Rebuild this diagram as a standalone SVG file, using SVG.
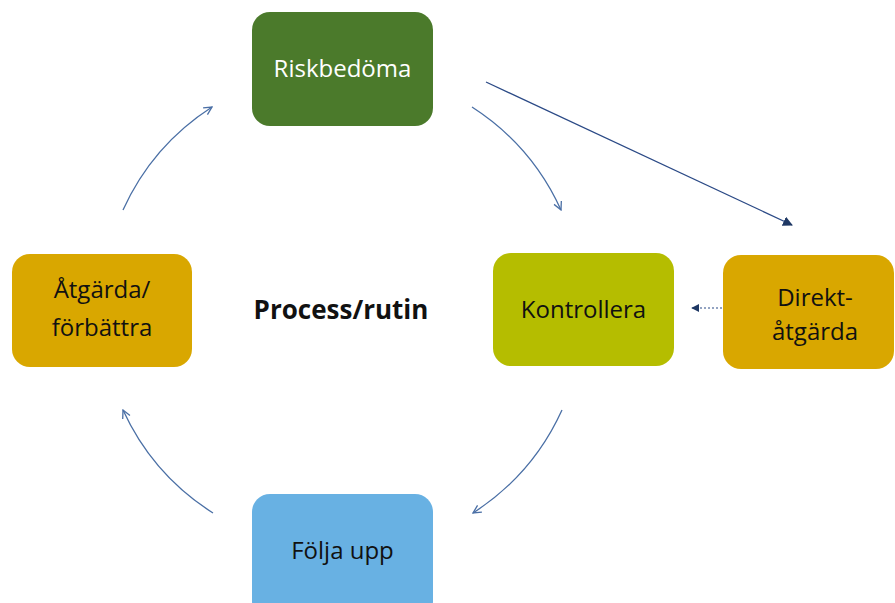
<svg xmlns="http://www.w3.org/2000/svg" width="895" height="603" viewBox="0 0 895 603">
<defs>
<style>
.box{stroke:none}
.t{font-family:"Open Sans","Noto Sans","Liberation Sans",sans-serif;font-size:24px;text-anchor:middle;fill:#111}
.w{fill:#fff}
.b{font-weight:bold;font-size:26px}
.arc{fill:none;stroke:#4a6fa5;stroke-width:1.3}
.nav{fill:none;stroke:#2b4a86;stroke-width:1.2}
</style>
<marker id="open" viewBox="0 0 10 10" refX="9" refY="5" markerWidth="10" markerHeight="10" markerUnits="userSpaceOnUse" orient="auto">
<path d="M1,1 L9,5 L1,9" fill="none" stroke="#4a6fa5" stroke-width="1.3"/>
</marker>
<marker id="tri" viewBox="0 0 10 10" refX="9" refY="5" markerWidth="10" markerHeight="10" markerUnits="userSpaceOnUse" orient="auto">
<path d="M0,0 L10,5 L0,10 Z" fill="#1f3864"/>
</marker>
<marker id="tri2" viewBox="0 0 10 10" refX="9" refY="5" markerWidth="8" markerHeight="8" markerUnits="userSpaceOnUse" orient="auto">
<path d="M0,0 L10,5 L0,10 Z" fill="#1f3864"/>
</marker>
</defs>
<rect width="895" height="603" fill="#fff"/>
<g id="connectors">
<path class="arc" d="M472,107 A241,241 0 0 1 561,210" marker-end="url(#open)"/>
<path class="arc" d="M562,410 A241,241 0 0 1 473,513" marker-end="url(#open)"/>
<path class="arc" d="M213,513 A241,241 0 0 1 123,410" marker-end="url(#open)"/>
<path class="arc" d="M123,210 A241,241 0 0 1 212,107" marker-end="url(#open)"/>
<path class="nav" d="M486,82 L792,225" marker-end="url(#tri)"/>
<path class="nav" d="M722,308 L692,308" stroke-dasharray="2,2" marker-end="url(#tri2)"/>
</g>
<g id="riskbedoma">
<rect class="box" x="252" y="12" width="181" height="114" rx="18" fill="#4b7a2b"/>
<text class="t w" x="342.5" y="77">Riskbedöma</text>
</g>
<g id="kontrollera">
<rect class="box" x="493" y="253" width="181" height="113" rx="18" fill="#b5bd00"/>
<text class="t" x="583.5" y="318">Kontrollera</text>
</g>
<g id="direkt">
<rect class="box" x="723" y="255" width="171" height="114" rx="18" fill="#d9a700"/>
<text class="t" x="815" y="306">Direkt-</text>
<text class="t" x="815" y="340">åtgärda</text>
</g>
<g id="atgarda">
<rect class="box" x="12" y="254" width="180" height="113" rx="18" fill="#d9a700"/>
<text class="t" x="102" y="298">Åtgärda/</text>
<text class="t" x="102" y="336">förbättra</text>
</g>
<g id="folja">
<rect class="box" x="252" y="494" width="181" height="125" rx="18" fill="#68b1e3"/>
<text class="t" x="342.5" y="559">Följa upp</text>
</g>
<g id="process">
<text class="t b" x="341" y="319">Process/rutin</text>
</g>
</svg>
